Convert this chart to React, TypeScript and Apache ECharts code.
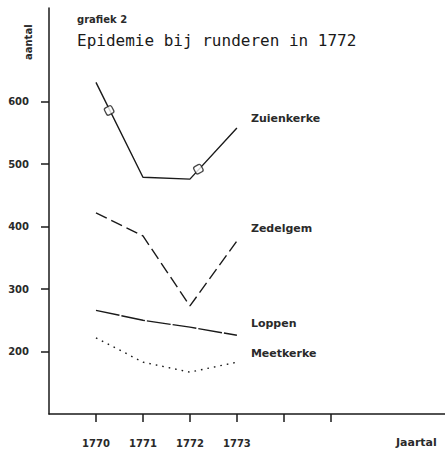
import React, { useEffect, useRef } from "react";
import * as echarts from "echarts";

const years = [1770, 1771, 1772, 1773];
const zuienkerke = [631, 479, 476, 558];
const zedelgem = [422, 385, 273, 377];
const loppen = [266, 250, 239, 226];
const meetkerke = [222, 183, 167, 183];
const zuienkerkeMarks: [number, number][] = [[1770.28, 586], [1772.18, 492]];
const xTickValues = [1770, 1771, 1772, 1773, 1774, 1775];
const xLabelValues = [1770, 1771, 1772, 1773];
const yTickValues = [200, 300, 400, 500, 600];

const INK = "#1a1a1a";
const FONT = "DejaVu Sans";
const MONO = "DejaVu Sans Mono";

export default function App() {
  const ref = useRef<HTMLDivElement>(null);
  useEffect(() => {
    if (!ref.current) return;
    const chart = echarts.init(ref.current, undefined, { renderer: "svg" });
    const pair = (vals: number[]) => years.map((y, i) => [y, vals[i]]);
    const lineSeries = (name: string, vals: number[], type: any, dy: number) => ({
      name,
      type: "line",
      data: pair(vals),
      symbol: "none",
      lineStyle: { color: INK, width: 1.4, type },
      endLabel: {
        show: true,
        formatter: name,
        color: "#2a2a2a",
        fontFamily: FONT,
        fontWeight: "bold",
        fontSize: 11,
        distance: 14,
        offset: [0, dy],
      },
    });
    chart.setOption({
      animation: false,
      backgroundColor: "#ffffff",
      grid: { left: 49, right: 0, top: 8, bottom: 35 },
      xAxis: {
        type: "value",
        min: 1769,
        max: 1777.43,
        axisLine: { show: true, onZero: false, lineStyle: { color: INK, width: 1.5 } },
        axisTick: { show: true, customValues: xTickValues, length: 8, lineStyle: { color: INK, width: 1.5 } },
        axisLabel: {
          customValues: xLabelValues,
          margin: 24,
          color: "#2a2a2a",
          fontFamily: FONT,
          fontWeight: "bold",
          fontSize: 10,
          formatter: (v: number) => String(v),
        },
        splitLine: { show: false },
      },
      yAxis: {
        type: "value",
        min: 100,
        max: 750,
        axisLine: { show: true, lineStyle: { color: INK, width: 1.5 } },
        axisTick: { show: true, customValues: yTickValues, length: 8, lineStyle: { color: INK, width: 1.5 } },
        axisLabel: {
          customValues: yTickValues,
          margin: 20,
          color: "#2a2a2a",
          fontFamily: FONT,
          fontWeight: "bold",
          fontSize: 10,
        },
        splitLine: { show: false },
      },
      graphic: [
        { type: "text", left: 77, top: 14, style: { text: "grafiek 2", fontFamily: FONT, fontSize: 10, fontWeight: "bold", fill: "#2a2a2a" } },
        { type: "text", left: 77, top: 32, style: { text: "Epidemie bij runderen in 1772", fontFamily: MONO, fontSize: 16, fill: "#1a1a1a" } },
        { type: "text", x: 23, y: 60, rotation: Math.PI / 2, style: { text: "aantal", fontFamily: FONT, fontSize: 10, fontWeight: "bold", fill: "#2a2a2a" } },
        { type: "text", left: 396, top: 437, style: { text: "Jaartal", fontFamily: FONT, fontSize: 11, fontWeight: "bold", fill: "#2a2a2a" } },
      ],
      series: [
        lineSeries("Zuienkerke", zuienkerke, "solid", -9),
        lineSeries("Zedelgem", zedelgem, [12, 5], -12),
        lineSeries("Loppen", loppen, [24, 2], -12),
        lineSeries("Meetkerke", meetkerke, [1.6, 5], -9),
        {
          type: "scatter",
          data: zuienkerkeMarks,
          symbol: "roundRect",
          symbolSize: 8,
          symbolRotate: 28,
          itemStyle: { color: "#ffffff", borderColor: INK, borderWidth: 1.3 },
          z: 5,
        },
      ],
    });
    return () => chart.dispose();
  }, []);
  return <div ref={ref} style={{ width: 445, height: 449, position: "absolute", left: 0, top: 0 }} />;
}
